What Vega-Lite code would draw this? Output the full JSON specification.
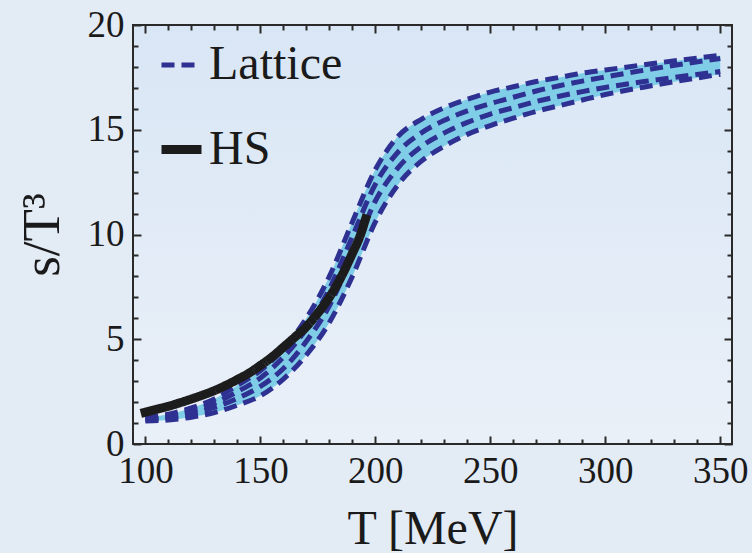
{
  "$schema": "https://vega.github.io/schema/vega-lite/v6.json",
  "width": 599,
  "height": 419,
  "autosize": {"type": "none"},
  "padding": {"left": 133, "top": 25, "right": 20, "bottom": 109},
  "background": "#e3ebf5",
  "config": {
    "font": "Liberation Serif",
    "view": {
      "stroke": "#2a2a2a",
      "strokeWidth": 2,
      "fill": {"gradient": "linear", "x1": 0, "y1": 0, "x2": 0, "y2": 1,
        "stops": [{"offset": 0, "color": "#d9e6f5"}, {"offset": 1, "color": "#eaf0f8"}]}
    },
    "axis": {
      "grid": false,
      "domain": false,
      "labelFont": "Liberation Serif",
      "labelFontSize": 37,
      "labelColor": "#1a1a1a",
      "labelFlush": false,
      "titleFont": "Liberation Serif",
      "titleFontSize": 48,
      "titleFontWeight": "normal",
      "titleColor": "#1a1a1a",
      "tickColor": "#2a2a2a",
      "tickWidth": 2
    },
    "legend": {
      "orient": "none",
      "legendX": 24,
      "legendY": 16,
      "title": null,
      "labelFont": "Liberation Serif",
      "labelFontSize": 48,
      "labelColor": "#1a1a1a",
      "labelLimit": 400,
      "symbolType": "stroke",
      "symbolSize": 1600,
      "rowPadding": 36,
      "labelOffset": 3,
      "padding": 0
    }
  },
  "datasets": {
    "lat": [
      {"T": 100, "A": 1.25, "B": 1.2, "C": 1.15, "D": 1.1},
      {"T": 110, "A": 1.42, "B": 1.32, "C": 1.24, "D": 1.15},
      {"T": 120, "A": 1.72, "B": 1.58, "C": 1.45, "D": 1.28},
      {"T": 130, "A": 2.15, "B": 1.95, "C": 1.75, "D": 1.5},
      {"T": 140, "A": 2.8, "B": 2.5, "C": 2.18, "D": 1.85},
      {"T": 150, "A": 3.5, "B": 3.15, "C": 2.75, "D": 2.3},
      {"T": 160, "A": 4.55, "B": 4.15, "C": 3.6, "D": 3.1},
      {"T": 170, "A": 6.0, "B": 5.5, "C": 4.9, "D": 4.25},
      {"T": 180, "A": 8.0, "B": 7.4, "C": 6.6, "D": 5.8},
      {"T": 190, "A": 10.6, "B": 9.9, "C": 9.0, "D": 8.0},
      {"T": 200, "A": 13.1, "B": 12.4, "C": 11.6, "D": 10.6},
      {"T": 210, "A": 14.7, "B": 13.95, "C": 13.2, "D": 12.4},
      {"T": 220, "A": 15.5, "B": 14.85, "C": 14.2, "D": 13.5},
      {"T": 230, "A": 16.05, "B": 15.45, "C": 14.85, "D": 14.22},
      {"T": 240, "A": 16.45, "B": 15.9, "C": 15.35, "D": 14.78},
      {"T": 250, "A": 16.8, "B": 16.25, "C": 15.75, "D": 15.2},
      {"T": 260, "A": 17.05, "B": 16.55, "C": 16.05, "D": 15.55},
      {"T": 270, "A": 17.3, "B": 16.85, "C": 16.35, "D": 15.88},
      {"T": 280, "A": 17.5, "B": 17.1, "C": 16.6, "D": 16.15},
      {"T": 290, "A": 17.7, "B": 17.32, "C": 16.82, "D": 16.42},
      {"T": 300, "A": 17.85, "B": 17.52, "C": 17.02, "D": 16.68},
      {"T": 320, "A": 18.15, "B": 17.9, "C": 17.35, "D": 17.1},
      {"T": 350, "A": 18.55, "B": 18.4, "C": 17.78, "D": 17.65}
    ],
    "hs": [
      {"T": 98, "s": 1.46},
      {"T": 105, "s": 1.66},
      {"T": 110, "s": 1.8},
      {"T": 115, "s": 1.97},
      {"T": 120, "s": 2.15},
      {"T": 125, "s": 2.34},
      {"T": 130, "s": 2.55},
      {"T": 135, "s": 2.8},
      {"T": 140, "s": 3.08},
      {"T": 145, "s": 3.38},
      {"T": 150, "s": 3.75},
      {"T": 155, "s": 4.15},
      {"T": 160, "s": 4.62},
      {"T": 165, "s": 5.1},
      {"T": 170, "s": 5.6},
      {"T": 175, "s": 6.25},
      {"T": 180, "s": 7.0},
      {"T": 185, "s": 7.95},
      {"T": 190, "s": 9.1},
      {"T": 193.3, "s": 9.92},
      {"T": 196.3, "s": 10.95}
    ]
  },
  "resolve": {"axis": {"x": "independent", "y": "independent"}},
  "layer": [
    {
      "data": {"name": "lat"},
      "mark": {"type": "area", "color": "#80cde7", "interpolate": "monotone"},
      "encoding": {
        "x": {"field": "T", "type": "quantitative", "scale": {"domain": [94.6, 355.1], "nice": false, "zero": false},
          "axis": {"orient": "bottom", "values": [100, 150, 200, 250, 300, 350], "ticks": false, "labelPadding": 9, "title": "T [MeV]", "titlePadding": 16}},
        "y": {"field": "D", "type": "quantitative", "scale": {"domain": [0, 20], "nice": false, "zero": false},
          "axis": {"orient": "left", "values": [0, 5, 10, 15, 20], "ticks": false, "labelPadding": 9, "title": "s/T³", "titleFontSize": 53, "titlePadding": 18}},
        "y2": {"field": "A"}
      }
    },
    {
      "data": {"name": "lat"},
      "mark": {"type": "line", "interpolate": "monotone", "strokeCap": "butt"},
      "encoding": {
        "x": {"field": "T", "type": "quantitative", "scale": {"domain": [94.6, 355.1], "nice": false, "zero": false},
          "axis": {"orient": "bottom", "values": [100, 150, 200, 250, 300, 350], "labels": false, "title": null, "tickSize": -8}},
        "y": {"field": "D", "type": "quantitative", "scale": {"domain": [0, 20], "nice": false, "zero": false},
          "axis": {"orient": "left", "values": [0, 5, 10, 15, 20], "labels": false, "title": null, "tickSize": -8}},
        "color": {"datum": "Lattice", "type": "nominal", "scale": {"domain": ["Lattice", "HS"], "range": ["#2e3192", "#1c1c1c"]}, "legend": {"title": null}},
        "strokeDash": {"datum": "Lattice", "type": "nominal", "scale": {"domain": ["Lattice", "HS"], "range": [[13, 7], [1, 0]]}, "legend": {"title": null}},
        "strokeWidth": {"datum": "Lattice", "type": "nominal", "scale": {"domain": ["Lattice", "HS"], "range": [5, 9]}, "legend": {"title": null}}
      }
    },
    {
      "data": {"name": "lat"},
      "mark": {"type": "line", "interpolate": "monotone", "strokeCap": "butt"},
      "encoding": {
        "x": {"field": "T", "type": "quantitative", "scale": {"domain": [94.6, 355.1], "nice": false, "zero": false},
          "axis": {"orient": "bottom", "values": [110, 120, 130, 140, 160, 170, 180, 190, 210, 220, 230, 240, 260, 270, 280, 290, 310, 320, 330, 340], "labels": false, "title": null, "tickSize": -5}},
        "y": {"field": "C", "type": "quantitative", "scale": {"domain": [0, 20], "nice": false, "zero": false},
          "axis": {"orient": "left", "values": [1, 2, 3, 4, 6, 7, 8, 9, 11, 12, 13, 14, 16, 17, 18, 19], "labels": false, "title": null, "tickSize": -5}},
        "color": {"datum": "Lattice", "type": "nominal", "scale": {"domain": ["Lattice", "HS"], "range": ["#2e3192", "#1c1c1c"]}, "legend": {"title": null}},
        "strokeDash": {"datum": "Lattice", "type": "nominal", "scale": {"domain": ["Lattice", "HS"], "range": [[13, 7], [1, 0]]}, "legend": {"title": null}},
        "strokeWidth": {"datum": "Lattice", "type": "nominal", "scale": {"domain": ["Lattice", "HS"], "range": [5, 9]}, "legend": {"title": null}}
      }
    },
    {
      "data": {"name": "lat"},
      "mark": {"type": "line", "interpolate": "monotone", "strokeCap": "butt"},
      "encoding": {
        "x": {"field": "T", "type": "quantitative", "scale": {"domain": [94.6, 355.1], "nice": false, "zero": false},
          "axis": {"orient": "top", "values": [100, 150, 200, 250, 300, 350], "labels": false, "title": null, "tickSize": -8}},
        "y": {"field": "B", "type": "quantitative", "scale": {"domain": [0, 20], "nice": false, "zero": false},
          "axis": {"orient": "right", "values": [0, 5, 10, 15, 20], "labels": false, "title": null, "tickSize": -8}},
        "color": {"datum": "Lattice", "type": "nominal", "scale": {"domain": ["Lattice", "HS"], "range": ["#2e3192", "#1c1c1c"]}, "legend": {"title": null}},
        "strokeDash": {"datum": "Lattice", "type": "nominal", "scale": {"domain": ["Lattice", "HS"], "range": [[13, 7], [1, 0]]}, "legend": {"title": null}},
        "strokeWidth": {"datum": "Lattice", "type": "nominal", "scale": {"domain": ["Lattice", "HS"], "range": [5, 9]}, "legend": {"title": null}}
      }
    },
    {
      "data": {"name": "lat"},
      "mark": {"type": "line", "interpolate": "monotone", "strokeCap": "butt"},
      "encoding": {
        "x": {"field": "T", "type": "quantitative", "scale": {"domain": [94.6, 355.1], "nice": false, "zero": false},
          "axis": {"orient": "top", "values": [110, 120, 130, 140, 160, 170, 180, 190, 210, 220, 230, 240, 260, 270, 280, 290, 310, 320, 330, 340], "labels": false, "title": null, "tickSize": -5}},
        "y": {"field": "A", "type": "quantitative", "scale": {"domain": [0, 20], "nice": false, "zero": false},
          "axis": {"orient": "right", "values": [1, 2, 3, 4, 6, 7, 8, 9, 11, 12, 13, 14, 16, 17, 18, 19], "labels": false, "title": null, "tickSize": -5}},
        "color": {"datum": "Lattice", "type": "nominal", "scale": {"domain": ["Lattice", "HS"], "range": ["#2e3192", "#1c1c1c"]}, "legend": {"title": null}},
        "strokeDash": {"datum": "Lattice", "type": "nominal", "scale": {"domain": ["Lattice", "HS"], "range": [[13, 7], [1, 0]]}, "legend": {"title": null}},
        "strokeWidth": {"datum": "Lattice", "type": "nominal", "scale": {"domain": ["Lattice", "HS"], "range": [5, 9]}, "legend": {"title": null}}
      }
    },
    {
      "data": {"name": "hs"},
      "mark": {"type": "line", "interpolate": "monotone", "strokeCap": "butt"},
      "encoding": {
        "x": {"field": "T", "type": "quantitative", "scale": {"domain": [94.6, 355.1], "nice": false, "zero": false}, "axis": null},
        "y": {"field": "s", "type": "quantitative", "scale": {"domain": [0, 20], "nice": false, "zero": false}, "axis": null},
        "color": {"datum": "HS", "type": "nominal", "scale": {"domain": ["Lattice", "HS"], "range": ["#2e3192", "#1c1c1c"]}, "legend": {"title": null}},
        "strokeDash": {"datum": "HS", "type": "nominal", "scale": {"domain": ["Lattice", "HS"], "range": [[13, 7], [1, 0]]}, "legend": {"title": null}},
        "strokeWidth": {"datum": "HS", "type": "nominal", "scale": {"domain": ["Lattice", "HS"], "range": [5, 9]}, "legend": {"title": null}}
      }
    }
  ]
}
